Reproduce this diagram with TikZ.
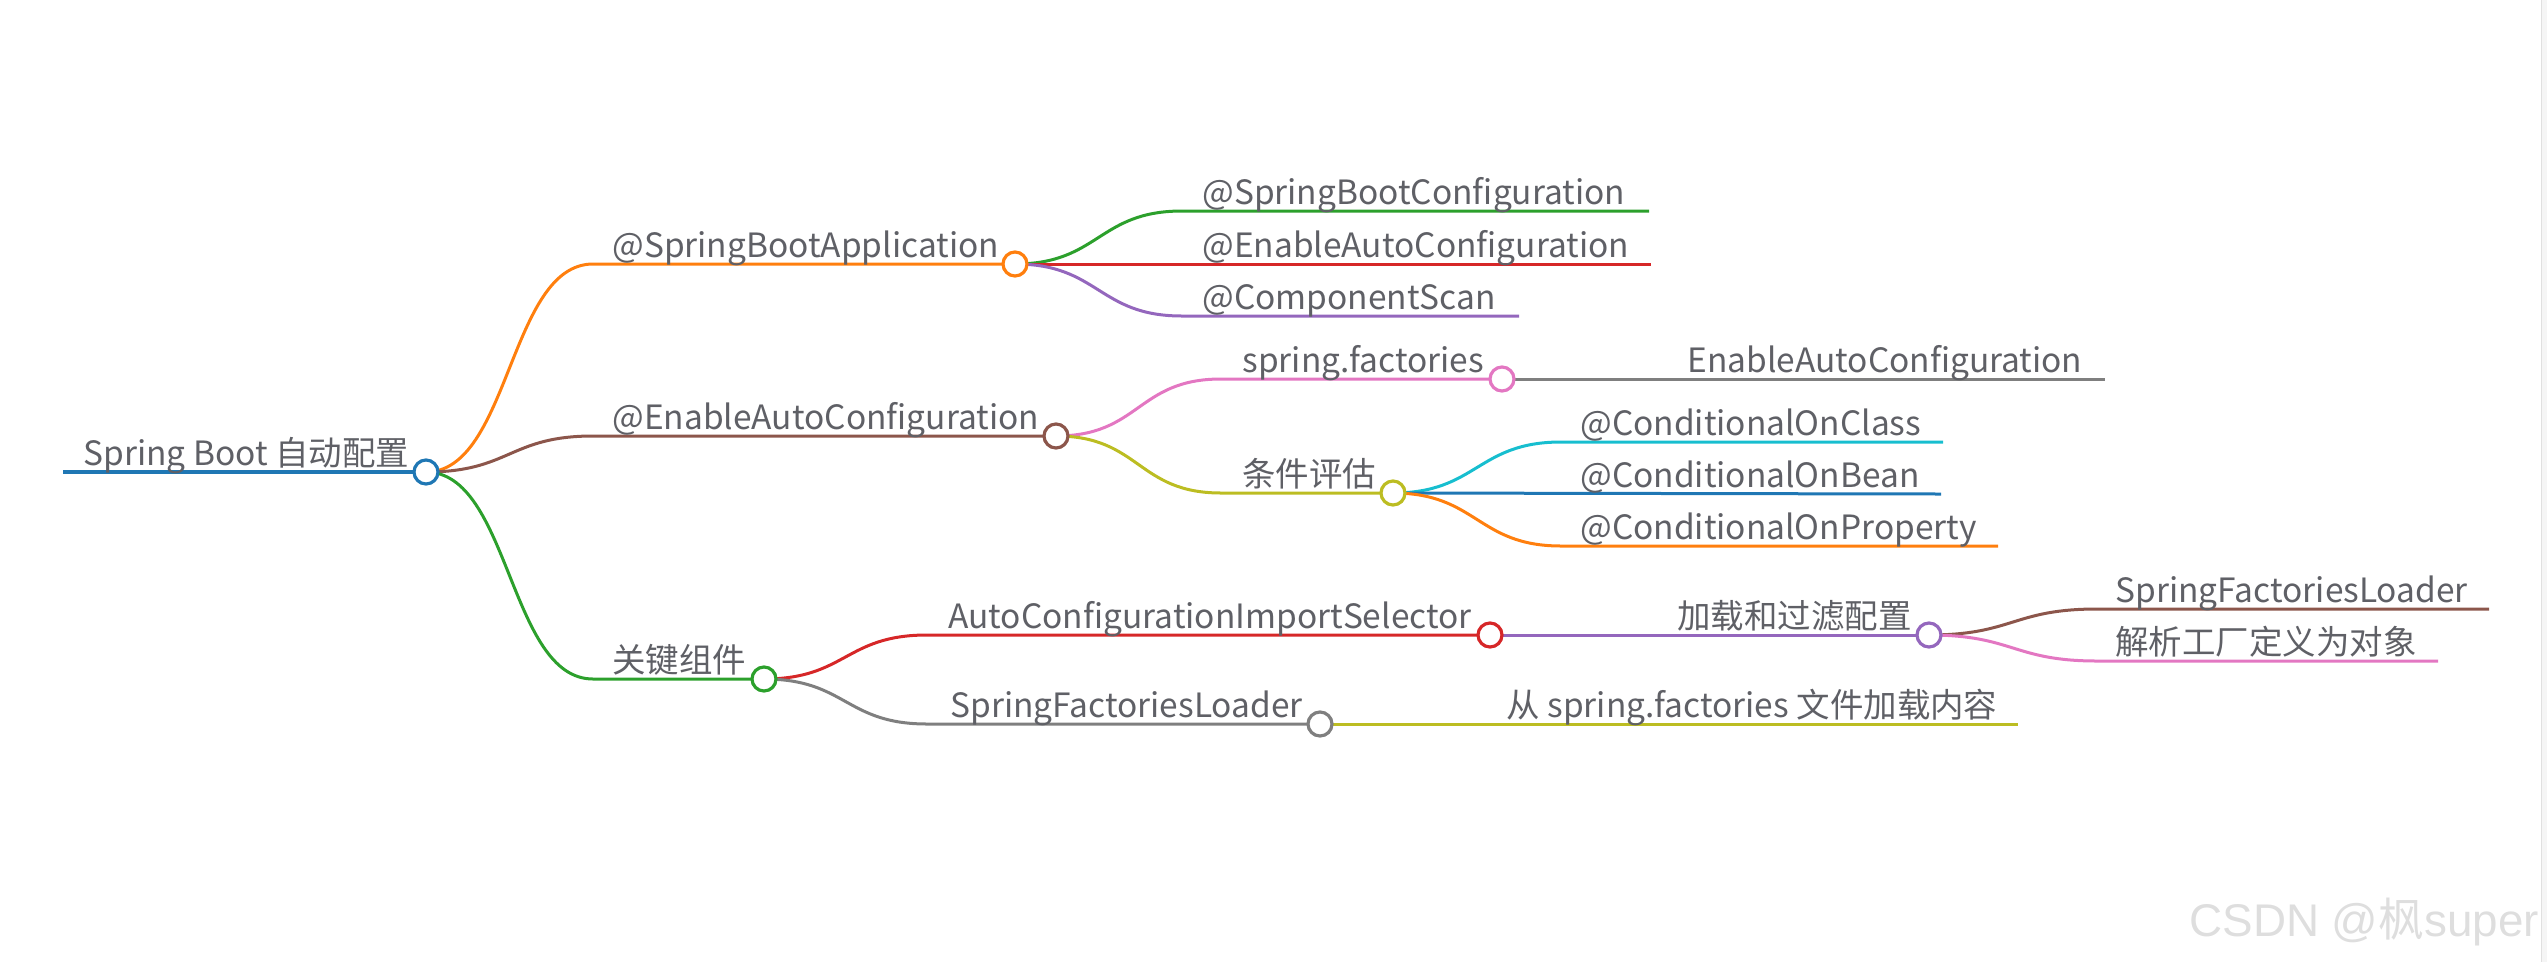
\documentclass[tikz,border=0pt]{standalone}
\usepackage{fontspec}
\setmainfont{Noto Sans CJK SC}
\newfontfamily\cjkfont{Noto Sans CJK SC}
\newfontfamily\wmfont{Liberation Sans}
\usetikzlibrary{backgrounds}
\definecolor{mmblue}{HTML}{1F77B4}
\definecolor{mmorange}{HTML}{FF7F0E}
\definecolor{mmgreen}{HTML}{2CA02C}
\definecolor{mmred}{HTML}{D62728}
\definecolor{mmpurple}{HTML}{9467BD}
\definecolor{mmbrown}{HTML}{8C564B}
\definecolor{mmpink}{HTML}{E377C2}
\definecolor{mmgray}{HTML}{7F7F7F}
\definecolor{mmolive}{HTML}{BCBD22}
\definecolor{mmcyan}{HTML}{17BECF}
\definecolor{mmtext}{HTML}{5F6066}

\begin{document}
\begin{tikzpicture}[
  x=0.5bp, y=-0.5bp,
  every node/.style={font=\fontsize{16.8}{20}\selectfont, text=mmtext},
  lbl/.style={anchor=base west, inner sep=0pt},
  dot/.style={circle, draw=#1, fill=white, line width=1.6bp, minimum size=12bp, inner sep=0pt},
  edge/.style={draw=#1, line width=1.5bp},
]
\useasboundingbox (0,0) rectangle (2547,962);

% root
\coordinate (root-s) at (63,472);
\node[dot=mmblue] (root) at (426,472) {};
\node[lbl] (root-t) at (83,465) {Spring Boot 自动配置};

% @SpringBootApplication
\coordinate (sba-s) at (593,264);
\node[dot=mmorange] (sba) at (1015,264) {};
\node[lbl] (sba-t) at (612,257) {@SpringBootApplication};
\coordinate (sbc-s) at (1182,211);
\coordinate (sbc-e) at (1649,211);
\node[lbl] (sbc-t) at (1202,204) {@SpringBootConfiguration};
\coordinate (eac-s) at (1182,264);
\coordinate (eac-e) at (1651,264);
\node[lbl] (eac-t) at (1202,257) {@EnableAutoConfiguration};
\coordinate (cs-s) at (1182,316);
\coordinate (cs-e) at (1519,316);
\node[lbl] (cs-t) at (1202,309) {@ComponentScan};

% @EnableAutoConfiguration
\coordinate (enable-s) at (593,436);
\node[dot=mmbrown] (enable) at (1056,436) {};
\node[lbl] (enable-t) at (612,429) {@EnableAutoConfiguration};
\coordinate (sf-s) at (1221,379);
\node[dot=mmpink] (sf) at (1502,379) {};
\node[lbl] (sf-t) at (1242,372) {spring.factories};
\coordinate (key-s) at (1670,379);
\coordinate (key-e) at (2105,379);
\node[lbl] (key-t) at (1687,372) {EnableAutoConfiguration};
\coordinate (cond-s) at (1221,493);
\node[dot=mmolive] (cond) at (1393,493) {};
\node[lbl] (cond-t) at (1242,486) {条件评估};
\coordinate (cls-s) at (1561,442);
\coordinate (cls-e) at (1943,442);
\node[lbl] (cls-t) at (1580,435) {@ConditionalOnClass};
\coordinate (bean-s) at (1561,494);
\coordinate (bean-e) at (1941,494);
\node[lbl] (bean-t) at (1580,487) {@ConditionalOnBean};
\coordinate (prop-s) at (1561,546);
\coordinate (prop-e) at (1998,546);
\node[lbl] (prop-t) at (1580,539) {@ConditionalOnProperty};

% 关键组件
\coordinate (kc-s) at (593,679);
\node[dot=mmgreen] (kc) at (764,679) {};
\node[lbl] (kc-t) at (612,672) {关键组件};
\coordinate (acis-s) at (927,635);
\node[dot=mmred] (acis) at (1490,635) {};
\node[lbl] (acis-t) at (948,628) {AutoConfigurationImportSelector};
\coordinate (load-s) at (1659,635);
\node[dot=mmpurple] (load) at (1929,635) {};
\node[lbl] (load-t) at (1677,628) {加载和过滤配置};
\coordinate (sfl-s) at (2097,609);
\coordinate (sfl-e) at (2489,609);
\node[lbl] (sfl-t) at (2115,602) {SpringFactoriesLoader};
\coordinate (parse-s) at (2097,661);
\coordinate (parse-e) at (2438,661);
\node[lbl] (parse-t) at (2115,654) {解析工厂定义为对象};
\coordinate (loader-s) at (927,724);
\node[dot=mmgray] (loader) at (1320,724) {};
\node[lbl] (loader-t) at (950,717) {SpringFactoriesLoader};
\coordinate (from-s) at (1488,724);
\coordinate (from-e) at (2018,724);
\node[lbl] (from-t) at (1506,717) {从 spring.factories 文件加载内容};

\node[font=\wmfont\fontsize{23}{26}\selectfont, text=black!13, anchor=base west, inner sep=0pt] (wm) at (2189,936) {CSDN @{\cjkfont 枫}super};

\begin{scope}[on background layer]
% page edge
\fill[black!4] (2541,0) rectangle (2547,962);
\draw[black!12, line width=0.5bp] (2541,0) -- (2541,962);

\draw[edge=mmblue, line width=2bp] (root-s) -- (root.center);
\draw[edge=mmorange] (root.center) .. controls +(84,0) and +(-84,0) .. (sba-s) -- (sba.center);
\draw[edge=mmbrown] (root.center) .. controls +(84,0) and +(-84,0) .. (enable-s) -- (enable.center);
\draw[edge=mmgreen] (root.center) .. controls +(84,0) and +(-84,0) .. (kc-s) -- (kc.center);

\draw[edge=mmgreen] (sba.center) .. controls +(84,0) and +(-84,0) .. (sbc-s) -- (sbc-e);
\draw[edge=mmred] (sba.center) -- (eac-e);
\draw[edge=mmpurple] (sba.center) .. controls +(84,0) and +(-84,0) .. (cs-s) -- (cs-e);

\draw[edge=mmpink] (enable.center) .. controls +(84,0) and +(-84,0) .. (sf-s) -- (sf.center);
\draw[edge=mmgray] (sf.center) -- (key-e);
\draw[edge=mmolive] (enable.center) .. controls +(84,0) and +(-84,0) .. (cond-s) -- (cond.center);
\draw[edge=mmcyan] (cond.center) .. controls +(84,0) and +(-84,0) .. (cls-s) -- (cls-e);
\draw[edge=mmblue] (cond.center) -- (bean-e);
\draw[edge=mmorange] (cond.center) .. controls +(84,0) and +(-84,0) .. (prop-s) -- (prop-e);

\draw[edge=mmred] (kc.center) .. controls +(82,0) and +(-82,0) .. (acis-s) -- (acis.center);
\draw[edge=mmpurple] (acis.center) -- (load.center);
\draw[edge=mmbrown] (load.center) .. controls +(84,0) and +(-84,0) .. (sfl-s) -- (sfl-e);
\draw[edge=mmpink] (load.center) .. controls +(84,0) and +(-84,0) .. (parse-s) -- (parse-e);
\draw[edge=mmgray] (kc.center) .. controls +(82,0) and +(-82,0) .. (loader-s) -- (loader.center);
\draw[edge=mmolive] (loader.center) -- (from-e);
\end{scope}
\end{tikzpicture}
\end{document}
